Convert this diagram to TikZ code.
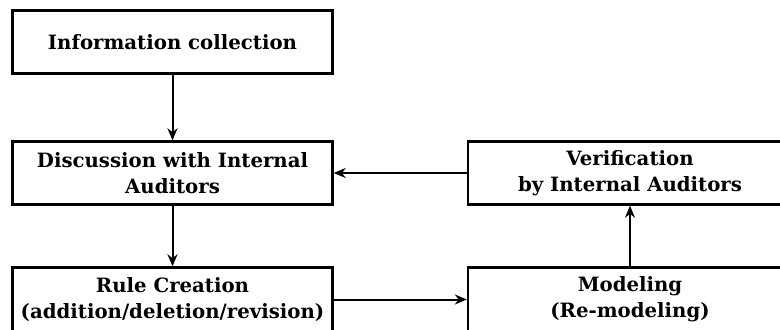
\documentclass[tikz,border=0pt]{standalone}
\usepackage{fontspec}
\setmainfont{DejaVu Serif}
\usetikzlibrary{arrows.meta}

\begin{document}
\begin{tikzpicture}[
x=1bp, y=-1bp,
box/.style={rectangle, draw=black, line width=2.4bp, minimum width=320bp, minimum height=63bp, inner sep=0pt, align=center, font=\fontsize{19.8}{26}\selectfont\bfseries},
flow/.style={-{Stealth[length=12bp, width=10bp]}, line width=2bp},
]
\useasboundingbox (0,0) rectangle (780,329);
\clip (0,0) rectangle (780,329);

\node [box] (info) at (172.5,42) {Information collection};
\node [box] (disc) at (172.5,173) {Discussion with Internal\\Auditors};
\node [box, minimum height=64bp] (rule) at (172.5,299.5) {Rule Creation\\(addition/deletion/revision)};
\node [box, minimum width=324bp] (verif) at (630,173) {Verification\\by Internal Auditors};
\node [box, minimum width=324bp, minimum height=64bp] (model) at (630,299.5) {Modeling\\(Re-modeling)};

\draw [flow] (info) -- (disc);
\draw [flow] (disc) -- (rule);
\draw [flow] (rule) -- (model);
\draw [flow] (model) -- (verif);
\draw [flow] (verif) -- (disc);
\end{tikzpicture}
\end{document}
